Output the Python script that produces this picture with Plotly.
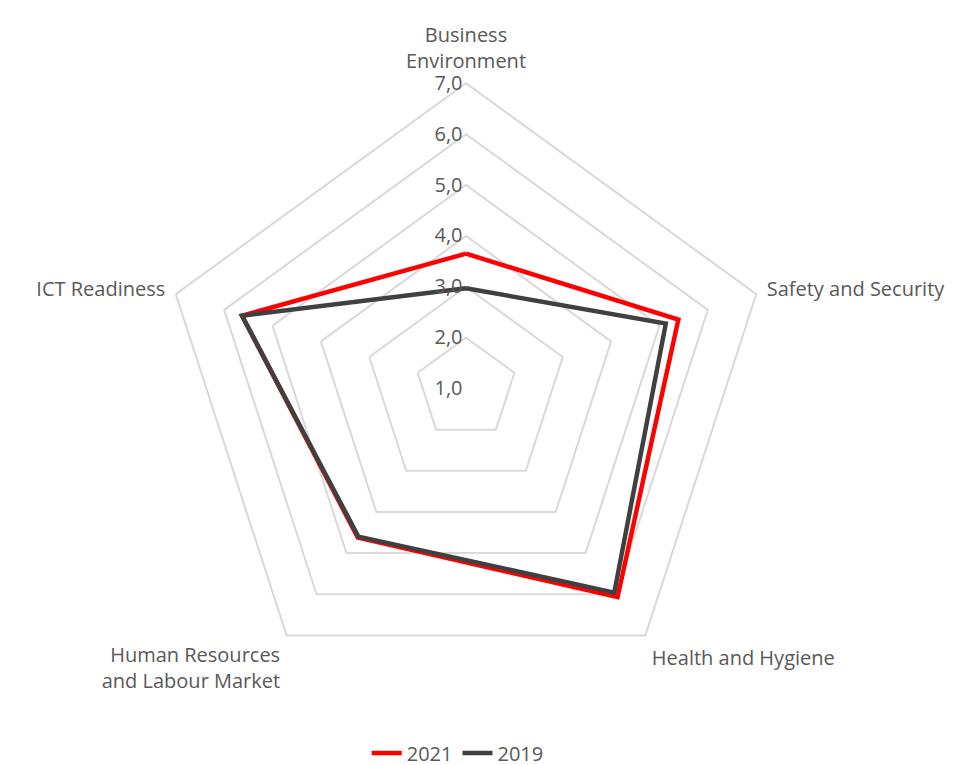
import plotly.graph_objects as go

categories = ["Business<br>Environment", "Safety and Security", "Health and Hygiene",
              "Human Resources<br>and Labour Market", "ICT Readiness"]
values_2021 = [3.65, 5.39, 6.07, 4.62, 5.63]
values_2019 = [2.97, 5.13, 5.96, 4.60, 5.63]
radial_ticks = [1, 2, 3, 4, 5, 6, 7]

FONT = "Open Sans"
FS = 20
GREY_TXT = "#595959"
GRID = "#d9d9d9"

W, H = 961, 765
CX, CY, R = 458, 384, 308  # centre and outer radius of the polar area (px)

fig = go.Figure()
fig.add_trace(go.Scatterpolar(
    r=values_2021 + values_2021[:1], theta=categories + categories[:1],
    mode="lines", name="2021", line=dict(color="#ff0000", width=4.5)))
fig.add_trace(go.Scatterpolar(
    r=values_2019 + values_2019[:1], theta=categories + categories[:1],
    mode="lines", name="2019", line=dict(color="#404040", width=4.5)))

fig.update_layout(
    width=W, height=H,
    paper_bgcolor="white", plot_bgcolor="white",
    separators=",.",
    font=dict(family=FONT, size=FS, color=GREY_TXT),
    margin=dict(l=0, r=0, t=0, b=0),
    polar=dict(
        bgcolor="white",
        gridshape="linear",
        domain=dict(x=[(CX - R) / W, (CX + R) / W],
                    y=[(H - CY - R) / H, (H - CY + R) / H]),
        radialaxis=dict(range=[1, 7], tickvals=radial_ticks, tickformat=".1f",
                        ticksuffix="\u00a0\u00a0",
                        angle=90, tickangle=90, side="counterclockwise",
                        showline=False, ticks="",
                        gridcolor=GRID, gridwidth=2,
                        tickfont=dict(family=FONT, size=FS, color=GREY_TXT)),
        angularaxis=dict(direction="clockwise", rotation=90, showgrid=False,
                         showline=True, linecolor=GRID, linewidth=2,
                         ticks="outside", ticklen=6, tickcolor="rgba(0,0,0,0)",
                         tickfont=dict(family=FONT, size=FS, color=GREY_TXT)),
    ),
    legend=dict(orientation="h", x=0.468, xanchor="center", y=0.017, yanchor="middle",
                font=dict(family=FONT, size=FS, color=GREY_TXT)),
)

fig.write_html("out.html")
